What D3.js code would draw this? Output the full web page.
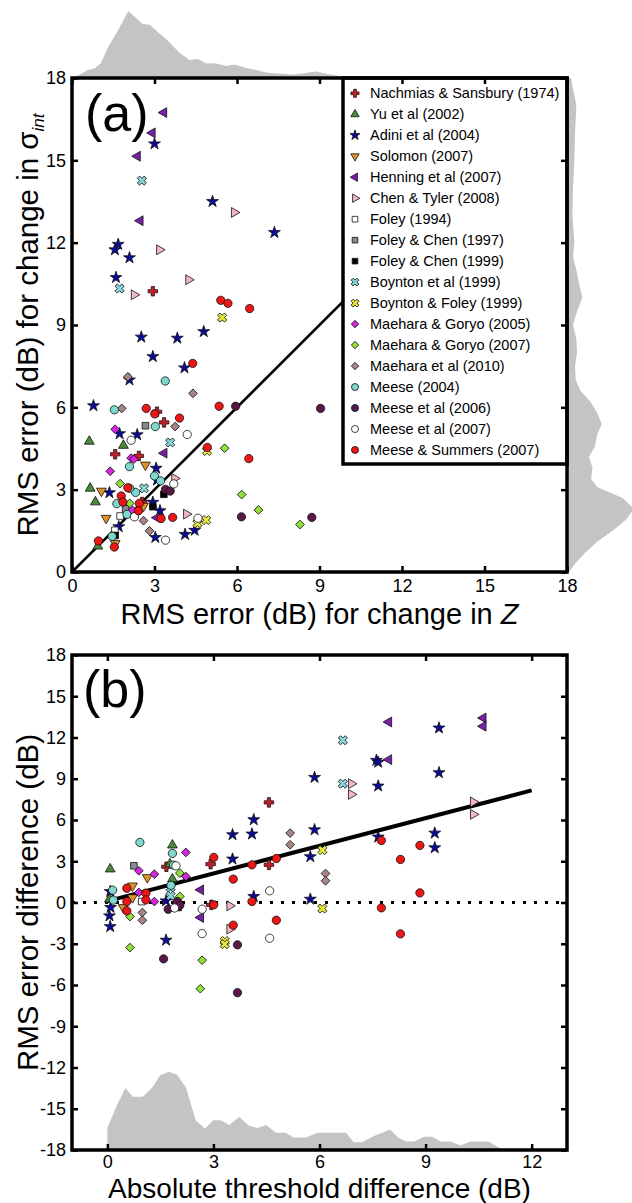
<!DOCTYPE html>
<html><head><meta charset="utf-8">
<script src="https://cdn.jsdelivr.net/npm/d3@7"></script>
<style>body{margin:0;background:#fff}svg{display:block}text{font-family:"Liberation Sans",Arial,sans-serif;fill:#000}</style>
</head><body><svg id="c" width="632" height="1203"></svg>
<script>
const seriesNames = ["Nachmias & Sansbury (1974)","Yu et al (2002)","Adini et al (2004)","Solomon (2007)","Henning et al (2007)","Chen & Tyler (2008)","Foley (1994)","Foley & Chen (1997)","Foley & Chen (1999)","Boynton et al (1999)","Boynton & Foley (1999)","Maehara & Goryo (2005)","Maehara & Goryo (2007)","Maehara et al (2010)","Meese (2004)","Meese et al (2006)","Meese et al (2007)","Meese & Summers (2007)"];

// Panel (a): [RMS error for change in Z, RMS error for change in sigma_int]
const aNachmias = [[2.94,10.23],[3.09,5.84],[3.35,5.45],[1.57,4.29],[2.43,4.23],[2.55,2.55]];
const aYu = [[0.63,4.76],[1.87,4.61],[0.66,3.05],[0.85,2.55],[0.94,0.94]];
const aAdini = [[3.0,15.6],[5.11,13.5],[7.36,12.37],[1.68,11.94],[1.56,11.74],[2.09,11.45],[1.6,10.73],[2.52,8.56],[3.83,8.52],[4.79,8.76],[2.94,7.85],[4.09,7.44],[2.09,7.0],[0.78,6.06],[1.73,5.04],[2.37,5.0],[3.06,3.78],[3.09,3.35],[1.36,2.89],[2.94,2.54],[3.2,2.23],[1.7,1.65],[3.03,1.26],[4.11,1.37],[4.46,1.52]];
const aSolomon = [[2.67,3.9],[1.07,2.95],[1.24,1.96],[1.57,1.04],[2.6,2.4]];
const aHenning = [[3.34,16.74],[2.92,16.0],[2.38,15.15],[2.48,12.8],[3.35,4.33],[3.09,1.98]];
const aChenTyler = [[5.9,13.1],[3.18,11.74],[2.26,10.1],[4.24,10.65],[3.73,3.41],[4.16,2.11]];
const aFoley94 = [[1.75,2.04],[1.56,1.52]];
const aFoleyChen97 = [[2.67,5.33],[1.95,2.3]];
const aFoleyChen99 = [[3.34,2.83],[2.94,2.38],[1.57,1.33]];
const aBoynton = [[2.54,14.26],[1.73,10.33],[3.57,4.72],[2.62,3.05]];
const aBoyntonFoley = [[5.46,9.27],[4.91,4.41],[4.56,1.77],[4.88,1.89]];
const aMaehara05 = [[1.57,5.2],[2.15,4.15],[2.25,4.11],[1.39,3.67],[2.2,2.25]];
const aMaehara07 = [[5.55,4.51],[1.75,3.22],[6.17,2.82],[6.78,2.26],[8.29,1.73],[2.1,2.5]];
const aMaehara10 = [[2.03,7.11],[4.4,6.51],[1.81,5.96],[3.75,5.3],[2.6,1.87],[2.82,1.5]];
const aMeese04 = [[3.39,6.96],[1.54,5.91],[3.03,5.3],[2.09,3.84],[3.0,3.5],[3.22,3.32],[2.31,2.9],[2.1,3.05],[1.63,2.49],[2.0,2.1],[1.46,1.3]];
const aMeese06 = [[5.95,6.04],[9.04,5.96],[3.4,3.01],[3.57,2.95],[6.16,2.01],[8.72,1.99]];
const aMeese07 = [[4.19,5.01],[2.15,4.8],[3.7,3.21],[2.27,2.01],[4.58,1.96],[3.4,1.16]];
const aMeeseSummers = [[5.41,9.9],[5.67,9.79],[6.46,9.6],[4.39,7.6],[2.7,5.96],[3.01,5.76],[5.35,6.04],[3.91,5.61],[4.92,4.54],[6.43,4.13],[2.03,3.07],[1.79,2.77],[1.85,2.55],[2.45,2.5],[2.42,2.23],[3.24,1.95],[3.66,1.99],[0.96,1.13],[1.54,0.91]];

// Panel (b): [absolute threshold difference, RMS error difference]
const bNachmias = [[4.57,7.28],[2.92,2.79],[4.57,2.74],[1.67,2.6],[2.94,-0.17]];
const bYu = [[1.84,4.17],[0.08,2.43],[1.77,2.79],[1.84,1.7],[0.06,0.24]];
const bAdini = [[5.86,9.1],[4.14,6.02],[3.54,4.93],[4.09,4.98],[5.86,5.29],[5.74,3.33],[3.54,3.16],[0.08,0.8],[0.09,-0.36],[0.06,-0.97],[0.08,-1.75],[1.66,0.12],[4.14,0.44],[5.74,0.24],[1.66,-2.74],[9.38,12.69],[7.61,10.34],[7.66,10.2],[9.38,9.44],[7.66,8.47],[7.66,4.76],[9.26,5.05],[9.26,3.98]];
const bSolomon = [[1.13,1.82],[0.71,1.21],[0.71,0.36],[0.45,-0.36]];
const bHenning = [[7.96,13.13],[10.63,13.42],[10.63,12.82],[7.96,10.39],[2.64,0.92],[2.64,-1.09]];
const bChenTyler = [[6.9,8.64],[6.9,7.86],[10.35,7.31],[10.35,6.41],[3.46,-0.24],[3.46,-1.94]];
const bFoley94 = [[0.97,0.07],[1.95,-0.15]];
const bFoleyChen97 = [[0.75,2.67]];
const bFoleyChen99 = [[2.0,-0.36],[1.98,0.0]];
const bBoynton = [[6.66,11.8],[6.66,8.64],[1.79,1.09],[1.79,0.49]];
const bBoyntonFoley = [[6.08,3.81],[6.08,-0.44],[3.32,-2.8],[3.32,-3.03]];
const bMaehara05 = [[2.22,3.64],[0.89,2.31],[1.33,2.06],[2.22,1.89],[0.89,0.73],[1.33,0.07]];
const bMaehara07 = [[2.05,2.14],[2.05,0.44],[0.64,-1.02],[0.64,-3.28],[2.68,-4.2],[2.63,-6.27]];
const bMaehara10 = [[5.17,5.05],[5.17,4.2],[6.17,2.11],[6.17,1.58],[0.99,-0.73],[0.99,-1.29]];
const bMeese04 = [[0.92,4.37],[1.84,3.57],[1.87,2.72],[0.15,0.9],[0.17,0.17],[1.8,1.25]];
const bMeese06 = [[1.72,-0.49],[1.98,0.07],[2.05,-0.2],[3.68,-3.08],[1.59,-4.1],[3.68,-6.56]];
const bMeese07 = [[1.94,2.67],[2.68,-0.49],[2.68,-2.26],[4.59,0.85],[4.59,-2.6],[1.9,-0.4]];
const bMeeseSummers = [[0.55,1.04],[1.09,0.68],[1.09,0.19],[0.55,0.07],[0.55,-0.61],[3.01,3.28],[3.56,1.7],[4.09,2.74],[4.78,3.2],[3.01,-0.17],[4.09,0.07],[4.78,-1.29],[3.56,-1.65],[7.75,4.51],[8.84,4.15],[8.29,3.13],[8.84,0.7],[7.75,-0.39],[8.29,-2.28]];

const panelA = [aNachmias,aYu,aAdini,aSolomon,aHenning,aChenTyler,aFoley94,aFoleyChen97,aFoleyChen99,aBoynton,aBoyntonFoley,aMaehara05,aMaehara07,aMaehara10,aMeese04,aMeese06,aMeese07,aMeeseSummers];
const panelB = [bNachmias,bYu,bAdini,bSolomon,bHenning,bChenTyler,bFoley94,bFoleyChen97,bFoleyChen99,bBoynton,bBoyntonFoley,bMaehara05,bMaehara07,bMaehara10,bMeese04,bMeese06,bMeese07,bMeeseSummers];

const aTicks = [0,3,6,9,12,15,18];
const bXTicks = [0,3,6,9,12];
const bYTicks = [-18,-15,-12,-9,-6,-3,0,3,6,9,12,15,18];
const diagX = [0,18], diagY = [0,18];
const regX = [0,12], regY = [0.1,8.15];

// marginal density estimates (relative)
const topHistX = [0,0.28,0.57,0.82,1.05,1.3,1.67,2.05,2.56,2.84,3.16,3.45,3.9,4.27,4.58,4.87,5.24,5.6,5.9,6.27,6.7,7.1,7.6,8.07,8.43,8.87,9.25,9.85,10.0];
const topHistD = [0.015,0.047,0.12,0.14,0.22,0.45,0.71,1.0,0.81,0.79,0.67,0.57,0.38,0.27,0.285,0.22,0.215,0.18,0.2,0.157,0.12,0.08,0.062,0.053,0.072,0.096,0.062,0.024,0];
const rightHistY = [0,0.3,0.7,1.1,1.5,1.9,2.3,2.7,3.1,3.4,3.8,4.2,4.6,5.0,5.4,5.8,6.2,6.6,7.0,7.5,8.0,8.5,9.0,9.5,10.0,10.5,11.0,11.5,12.0,13.0,14.0,15.0,16.0,17.0,17.6,18];
const rightHistD = [0.03,0.12,0.27,0.45,0.68,0.88,1.0,0.83,0.45,0.36,0.38,0.33,0.42,0.45,0.52,0.45,0.35,0.2,0.13,0.12,0.15,0.14,0.09,0.15,0.23,0.18,0.14,0.09,0.11,0.08,0.09,0.11,0.12,0.14,0.09,0.06];
const bottomHistX = [0,0,0.26,0.51,0.72,1.0,1.26,1.49,1.74,1.97,2.22,2.5,2.76,2.99,3.21,3.44,3.73,4.01,4.24,4.49,4.76,5.04,5.27,5.61,5.95,6.75,6.97,7.2,7.54,7.77,8.0,8.22,8.45,8.68,8.96,9.19,9.42,9.7,9.99,10.27,10.78,11.12,11.2];
const bottomHistD = [0,0.28,0.56,0.79,0.68,0.68,0.79,0.95,1.0,0.96,0.8,0.38,0.27,0.38,0.38,0.32,0.42,0.31,0.28,0.32,0.22,0.22,0.16,0.16,0.22,0.22,0.1,0.1,0.18,0.22,0.26,0.16,0.11,0.11,0.17,0.17,0.11,0.11,0.06,0.11,0.11,0.02,0];

// ---- styles ----
const styles = [
  {shape:"cross", fill:"#c8202a"},
  {shape:"triUp", fill:"#4a8a3a"},
  {shape:"star", fill:"#0a0a96"},
  {shape:"triDown", fill:"#e0922a"},
  {shape:"triLeft", fill:"#7a1fa8"},
  {shape:"triRight", fill:"#f2b6c4"},
  {shape:"square", fill:"#ffffff"},
  {shape:"square", fill:"#8a8a8a"},
  {shape:"square", fill:"#000000"},
  {shape:"xsq", fill:"#86d8d8"},
  {shape:"xsq", fill:"#e8e838"},
  {shape:"diamond", fill:"#d626e0"},
  {shape:"diamond", fill:"#92e03c"},
  {shape:"diamond", fill:"#a88686"},
  {shape:"circle", fill:"#7ed8d0"},
  {shape:"circle", fill:"#5a1848"},
  {shape:"circle", fill:"#ffffff"},
  {shape:"circle", fill:"#ee1515"}
];
const shapeDef = {
  cross:{type:d3.symbolCross, size:50, rot:0},
  triUp:{type:d3.symbolTriangle, size:42, rot:0},
  star:{type:d3.symbolStar, size:44, rot:0},
  triDown:{type:d3.symbolTriangle, size:42, rot:180},
  triLeft:{type:d3.symbolTriangle, size:42, rot:-90},
  triRight:{type:d3.symbolTriangle, size:42, rot:90},
  square:{type:d3.symbolSquare, size:44, rot:0},
  xsq:{type:d3.symbolCross, size:52, rot:45},
  diamond:{type:d3.symbolSquare, size:38, rot:45},
  circle:{type:d3.symbolCircle, size:54, rot:0}
};
function drawMarker(g, st, x, y, k) {
  const def = shapeDef[st.shape];
  g.append("path")
    .attr("d", d3.symbol(def.type, def.size*k*k)())
    .attr("transform", `translate(${x},${y}) rotate(${def.rot})`)
    .attr("fill", st.fill).attr("stroke", "#111").attr("stroke-width", 0.8);
}

const svg = d3.select("#c");
const L = 72, R = 567;
const xa = d3.scaleLinear([0,18],[L,R]);
const ya = d3.scaleLinear([0,18],[572,78]);
const xb = d3.scaleLinear([-1,13],[L,R]);
const yb = d3.scaleLinear([-18,18],[1150,655]);
const histPx = d3.scaleLinear([0,1],[0,67]);
const histB = d3.scaleLinear([0,1],[0,5.7]);
const grey = "#c4c4c4";

// marginal histograms panel a
svg.append("path")
  .attr("d", d3.area().x((d,i)=>xa(topHistX[i])).y0(ya(18)).y1((d,i)=>ya(18)-histPx(d))(topHistD))
  .attr("fill", grey);
svg.append("path")
  .attr("d", d3.area().y((d,i)=>ya(rightHistY[i])).x0(xa(18)).x1((d,i)=>xa(18)+histPx(d))(rightHistD))
  .attr("fill", grey);
// bottom histogram panel b
svg.append("path")
  .attr("d", d3.area().x((d,i)=>xb(bottomHistX[i])).y0(yb(-18)).y1((d,i)=>yb(-18+histB(d)))(bottomHistD))
  .attr("fill", grey);

function styleAxis(g){
  g.select(".domain").remove();
  g.selectAll(".tick line").attr("stroke","#000").attr("stroke-width",2.5);
  g.selectAll(".tick text").attr("font-size",18).attr("font-family","Liberation Sans, Arial, sans-serif").attr("fill","#000");
}
const fmt = d => String(d);

// ---------- Panel (a) ----------
const ga = svg.append("g");
ga.append("line").attr("x1",xa(diagX[0])).attr("y1",ya(diagY[0])).attr("x2",xa(diagX[1])).attr("y2",ya(diagY[1]))
  .attr("stroke","#000").attr("stroke-width",2.5);
panelA.forEach((pts,si)=>pts.forEach(p=>drawMarker(ga, styles[si], xa(p[0]), ya(p[1]), 1)));

// legend
const legX0 = 343, legY0 = 78, legY1 = 464;
ga.append("rect").attr("x",legX0).attr("y",legY0).attr("width",R-legX0).attr("height",legY1-legY0)
  .attr("fill","#fff").attr("stroke","#000").attr("stroke-width",3.5);
seriesNames.forEach((n,i)=>{
  const yy = 93.3 + i*20.98;
  drawMarker(ga, styles[i], 355, yy, 0.85);
  ga.append("text").attr("x",370).attr("y",yy+5).attr("font-size",14.5).text(n);
});

svg.append("g").attr("transform",`translate(0,${ya(0)})`).call(d3.axisBottom(xa).tickValues(aTicks).tickFormat(fmt).tickSize(-6).tickPadding(7)).call(styleAxis);
svg.append("g").attr("transform",`translate(0,${ya(18)})`).call(d3.axisTop(xa).tickValues(aTicks).tickFormat("").tickSize(-6)).call(styleAxis);
svg.append("g").attr("transform",`translate(${xa(0)},0)`).call(d3.axisLeft(ya).tickValues(aTicks).tickFormat(fmt).tickSize(-6).tickPadding(6)).call(styleAxis);
svg.append("g").attr("transform",`translate(${xa(18)},0)`).call(d3.axisRight(ya).tickValues(aTicks).tickFormat("").tickSize(-6)).call(styleAxis);
svg.append("rect").attr("x",L).attr("y",ya(18)).attr("width",R-L).attr("height",ya(0)-ya(18))
  .attr("fill","none").attr("stroke","#000").attr("stroke-width",3.5);
svg.append("text").attr("x",85).attr("y",131).attr("font-size",52).text("(a)");

const xta = svg.append("text").attr("x",(L+R)/2).attr("y",ya(0)+52).attr("text-anchor","middle").attr("font-size",29);
xta.append("tspan").text("RMS error (dB) for change in ");
xta.append("tspan").attr("font-style","italic").text("Z");
const yta = svg.append("text").attr("transform",`translate(38,${(ya(0)+ya(18))/2}) rotate(-90)`).attr("text-anchor","middle").attr("font-size",29.5);
yta.append("tspan").text("RMS error (dB) for change in ");
yta.append("tspan").text("σ");
yta.append("tspan").attr("font-size",17).attr("font-style","italic").attr("dy",6).text("int");

// ---------- Panel (b) ----------
const gb = svg.append("g");
gb.append("line").attr("x1",L).attr("x2",R).attr("y1",yb(0)).attr("y2",yb(0))
  .attr("stroke","#000").attr("stroke-width",3).attr("stroke-dasharray","3,8");
gb.append("line").attr("x1",xb(regX[0])).attr("y1",yb(regY[0])).attr("x2",xb(regX[1])).attr("y2",yb(regY[1]))
  .attr("stroke","#000").attr("stroke-width",4);
panelB.forEach((pts,si)=>pts.forEach(p=>drawMarker(gb, styles[si], xb(p[0]), yb(p[1]), 1)));

svg.append("g").attr("transform",`translate(0,${yb(-18)})`).call(d3.axisBottom(xb).tickValues(bXTicks).tickFormat(fmt).tickSize(-6).tickPadding(5)).call(styleAxis);
svg.append("g").attr("transform",`translate(0,${yb(18)})`).call(d3.axisTop(xb).tickValues(bXTicks).tickFormat("").tickSize(-6)).call(styleAxis);
svg.append("g").attr("transform",`translate(${L},0)`).call(d3.axisLeft(yb).tickValues(bYTicks).tickFormat(fmt).tickSize(-6).tickPadding(6)).call(styleAxis);
svg.append("g").attr("transform",`translate(${R},0)`).call(d3.axisRight(yb).tickValues(bYTicks).tickFormat("").tickSize(-6)).call(styleAxis);
svg.append("rect").attr("x",L).attr("y",yb(18)).attr("width",R-L).attr("height",yb(-18)-yb(18))
  .attr("fill","none").attr("stroke","#000").attr("stroke-width",3.5);
svg.append("text").attr("x",83).attr("y",707).attr("font-size",52).text("(b)");
svg.append("text").attr("x",(L+R)/2).attr("y",1198).attr("text-anchor","middle").attr("font-size",28).text("Absolute threshold difference (dB)");
svg.append("text").attr("transform",`translate(38,${(yb(-18)+yb(18))/2}) rotate(-90)`).attr("text-anchor","middle").attr("font-size",29.5).text("RMS error difference (dB)");
</script></body></html>
